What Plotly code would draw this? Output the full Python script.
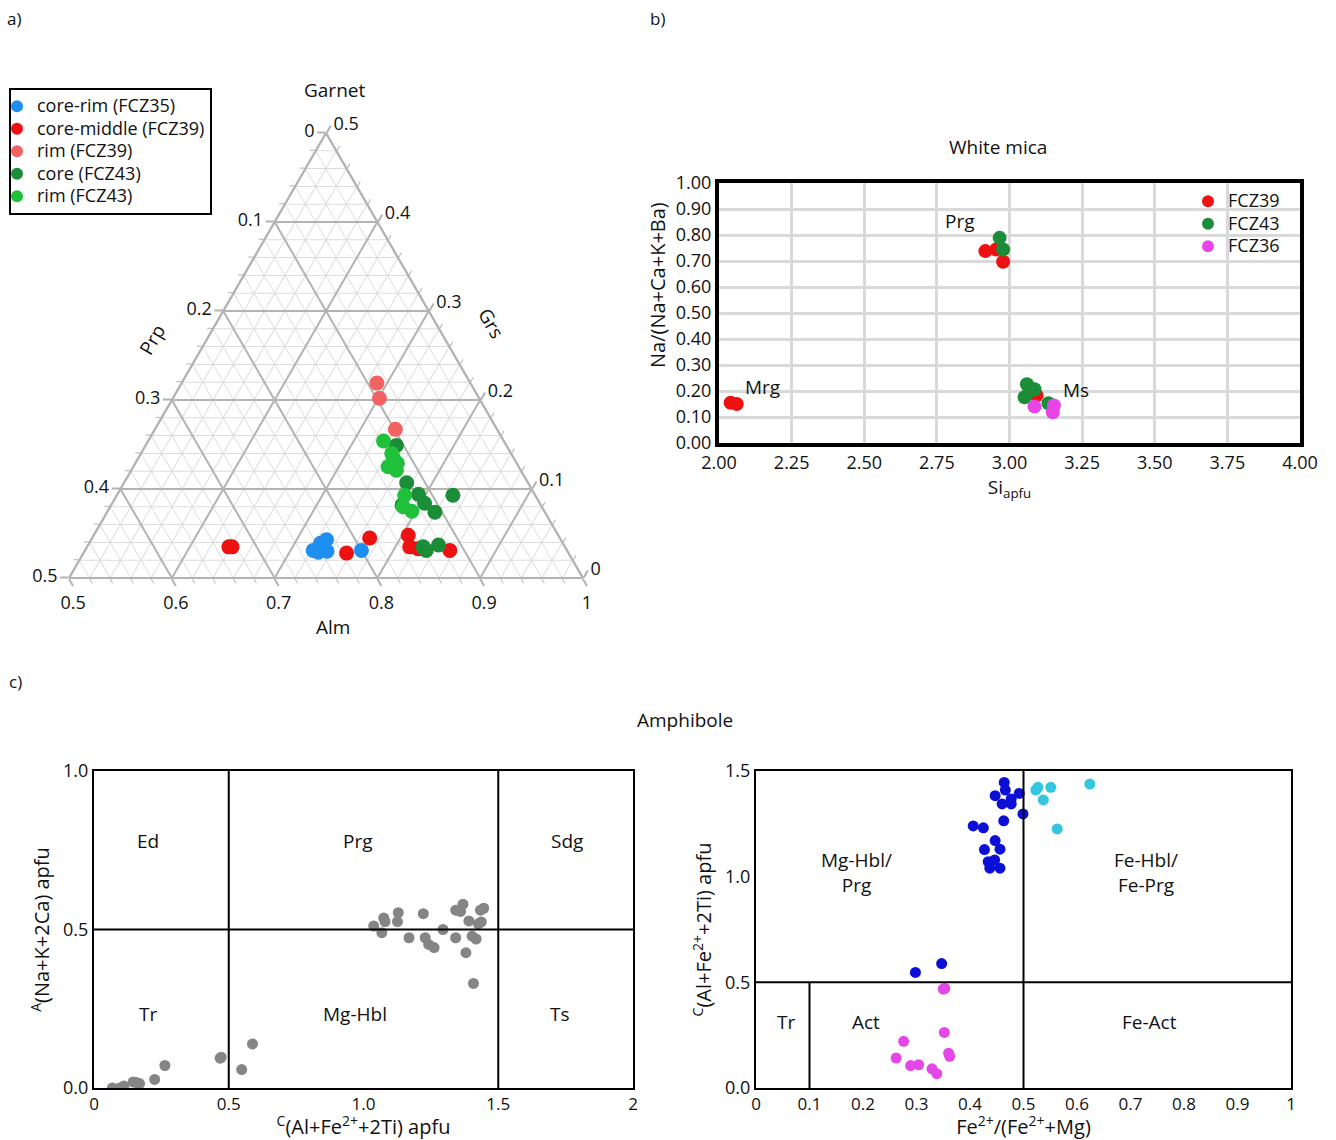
import plotly.graph_objects as go

W, H = 1336, 1140
FONT = "Open Sans"

# ---------------- a) Garnet ternary (mole fractions) ----------------
grt_labels = ["core-rim (FCZ35)", "core-middle (FCZ39)", "rim (FCZ39)", "core (FCZ43)", "rim (FCZ43)"]
grt_colors = ["#1f8ef1", "#ee1111", "#f26262", "#1b8c37", "#1fc13a"]

alm_corerim_35 = [0.729, 0.725, 0.722, 0.736, 0.769, 0.728]
prp_corerim_35 = [0.228, 0.236, 0.247, 0.234, 0.200, 0.243]
grs_corerim_35 = [0.043, 0.039, 0.031, 0.030, 0.031, 0.029]

alm_coremid_39 = [0.638, 0.641, 0.756, 0.770, 0.806, 0.814, 0.823, 0.855]
prp_coremid_39 = [0.327, 0.324, 0.216, 0.185, 0.146, 0.151, 0.144, 0.114]
grs_coremid_39 = [0.035, 0.035, 0.028, 0.045, 0.048, 0.035, 0.033, 0.031]

alm_rim_39 = [0.690, 0.701, 0.734]
prp_rim_39 = [0.091, 0.097, 0.099]
grs_rim_39 = [0.219, 0.202, 0.167]

alm_core_43 = [0.744, 0.775, 0.793, 0.804, 0.819, 0.827, 0.832, 0.841, 0.783, 0.827]
prp_core_43 = [0.107, 0.118, 0.113, 0.112, 0.107, 0.080, 0.137, 0.122, 0.135, 0.138]
grs_core_43 = [0.149, 0.107, 0.094, 0.084, 0.074, 0.093, 0.031, 0.037, 0.082, 0.035]

alm_rim_43 = [0.729, 0.744, 0.748, 0.748, 0.758, 0.780, 0.785, 0.796, 0.755]
prp_rim_43 = [0.117, 0.116, 0.117, 0.127, 0.121, 0.127, 0.135, 0.129, 0.116]
grs_rim_43 = [0.154, 0.140, 0.135, 0.125, 0.121, 0.093, 0.080, 0.075, 0.129]

grt_alm = [alm_corerim_35, alm_coremid_39, alm_rim_39, alm_core_43, alm_rim_43]
grt_prp = [prp_corerim_35, prp_coremid_39, prp_rim_39, prp_core_43, prp_rim_43]
grt_grs = [grs_corerim_35, grs_coremid_39, grs_rim_39, grs_core_43, grs_rim_43]

# ternary tick labels (each edge labelled with the end-member read along it)
tern_grs_tickvals = [0, 0.1, 0.2, 0.3, 0.4, 0.5]
tern_left_prp_text = ["0.5", "0.4", "0.3", "0.2", "0.1", "0"]
tern_prp_tickvals = [0, 0.1, 0.2, 0.3, 0.4, 0.5]
tern_bottom_alm_text = ["1", "0.9", "0.8", "0.7", "0.6", "0.5"]
tern_alm_tickvals = [0.5, 0.6, 0.7, 0.8, 0.9, 1.0]
tern_right_grs_text = ["0.5", "0.4", "0.3", "0.2", "0.1", "0"]

# ---------------- b) White mica ----------------
wm_labels = ["FCZ39", "FCZ43", "FCZ36"]
wm_colors = ["#ee1111", "#1b8c37", "#e845e8"]
wm_si_fcz39 = [2.040, 2.061, 2.917, 2.954, 2.978, 3.093]
wm_na_fcz39 = [0.155, 0.150, 0.738, 0.744, 0.697, 0.183]
wm_si_fcz43 = [2.966, 2.978, 3.060, 3.052, 3.086, 3.071, 3.134]
wm_na_fcz43 = [0.789, 0.744, 0.226, 0.176, 0.207, 0.201, 0.153]
wm_si_fcz36 = [3.086, 3.149, 3.153]
wm_na_fcz36 = [0.140, 0.118, 0.144]
wm_si = [wm_si_fcz39, wm_si_fcz43, wm_si_fcz36]
wm_na = [wm_na_fcz39, wm_na_fcz43, wm_na_fcz36]
wm_field_names = ["Prg", "Mrg", "Ms"]
wm_field_x = [2.83, 2.15, 3.23]
wm_field_y = [0.855, 0.215, 0.205]

# ---------------- c) Amphibole ----------------
amph1_x = [1.038, 1.068, 1.075, 1.080, 1.129, 1.126, 1.169, 1.222, 1.229, 1.242, 1.262,
           1.295, 1.342, 1.360, 1.369, 1.342, 1.391, 1.380, 1.403, 1.418, 1.426, 1.437,
           1.434, 1.446, 1.408,
           0.068, 0.095, 0.111, 0.145, 0.157, 0.169, 0.225, 0.263, 0.468, 0.472, 0.548, 0.588]
amph1_y = [0.511, 0.490, 0.536, 0.525, 0.553, 0.525, 0.474, 0.550, 0.474, 0.453, 0.443,
           0.500, 0.561, 0.557, 0.580, 0.474, 0.527, 0.427, 0.479, 0.470, 0.518, 0.524,
           0.561, 0.567, 0.330,
           0.000, 0.000, 0.006, 0.019, 0.017, 0.014, 0.027, 0.071, 0.094, 0.097, 0.058, 0.139]
amph1_xdiv = [0.5, 1.5]
amph1_ydiv = [0.5]
amph1_fields = ["Ed", "Prg", "Sdg", "Tr", "Mg-Hbl", "Ts"]
amph1_field_x = [0.20, 0.98, 1.755, 0.20, 0.97, 1.73]
amph1_field_y = [0.78, 0.78, 0.78, 0.235, 0.235, 0.235]

amph2_blue_x = [0.464, 0.466, 0.447, 0.492, 0.477, 0.460, 0.477, 0.499, 0.463, 0.406,
                0.425, 0.447, 0.427, 0.456, 0.434, 0.446, 0.437, 0.456, 0.298, 0.347]
amph2_blue_y = [1.446, 1.410, 1.383, 1.394, 1.368, 1.344, 1.344, 1.297, 1.264, 1.240,
                1.231, 1.171, 1.128, 1.130, 1.071, 1.079, 1.040, 1.040, 0.547, 0.589]
amph2_cyan_x = [0.523, 0.527, 0.551, 0.537, 0.624, 0.563]
amph2_cyan_y = [1.410, 1.423, 1.423, 1.363, 1.438, 1.226]
amph2_mag_x = [0.350, 0.353, 0.352, 0.276, 0.262, 0.289, 0.304, 0.329, 0.338, 0.360, 0.362]
amph2_mag_y = [0.468, 0.471, 0.263, 0.221, 0.142, 0.106, 0.110, 0.091, 0.068, 0.165, 0.150]
amph2_xdiv = [0.5]
amph2_ydiv = [0.5]
amph2_tr_div = 0.1
amph2_fields = ["Mg-Hbl/<br>Prg", "Fe-Hbl/<br>Fe-Prg", "Tr", "Act", "Fe-Act"]
amph2_field_x = [0.187, 0.729, 0.056, 0.206, 0.735]
amph2_field_y = [1.02, 1.02, 0.31, 0.31, 0.31]

LEG_TXT = "<span style='font-size:18px'>{}</span>"

fig = go.Figure()

# fine background grid of the ternary (separate subplot underneath)
fig.add_trace(go.Scatterternary(a=[], b=[], c=[], mode="markers", subplot="ternary",
                                showlegend=False, hoverinfo="skip"))

# ---- ternary traces ----
for lab, col, al, pr, gr in zip(grt_labels, grt_colors, grt_alm, grt_prp, grt_grs):
    fig.add_trace(go.Scatterternary(
        a=gr, b=pr, c=al, mode="markers", name=LEG_TXT.format(lab), subplot="ternary2",
        marker=dict(color=col, size=15, line=dict(width=0)), legend="legend"))

# ---- white mica ----
for lab, col, xs, ys in zip(wm_labels, wm_colors, wm_si, wm_na):
    fig.add_trace(go.Scatter(x=xs, y=ys, mode="markers", name=LEG_TXT.format(lab),
                             xaxis="x", yaxis="y",
                             marker=dict(color=col, size=14), legend="legend2"))

# ---- amphibole ----
fig.add_trace(go.Scatter(x=amph1_x, y=amph1_y, mode="markers", xaxis="x2", yaxis="y2",
                         marker=dict(color="#858585", size=11), showlegend=False))
fig.add_trace(go.Scatter(x=amph2_blue_x, y=amph2_blue_y, mode="markers", xaxis="x3", yaxis="y3",
                         marker=dict(color="#0c10d6", size=11), showlegend=False))
fig.add_trace(go.Scatter(x=amph2_cyan_x, y=amph2_cyan_y, mode="markers", xaxis="x3", yaxis="y3",
                         marker=dict(color="#33c6de", size=11), showlegend=False))
fig.add_trace(go.Scatter(x=amph2_mag_x, y=amph2_mag_y, mode="markers", xaxis="x3", yaxis="y3",
                         marker=dict(color="#e447e8", size=11), showlegend=False))

shapes = []
for xv in amph1_xdiv:
    shapes.append(dict(type="line", xref="x2", yref="y2 domain", x0=xv, x1=xv, y0=0, y1=1,
                       line=dict(color="black", width=2)))
for yv in amph1_ydiv:
    shapes.append(dict(type="line", xref="x2 domain", yref="y2", x0=0, x1=1, y0=yv, y1=yv,
                       line=dict(color="black", width=2)))
for xv in amph2_xdiv:
    shapes.append(dict(type="line", xref="x3", yref="y3 domain", x0=xv, x1=xv, y0=0, y1=1,
                       line=dict(color="black", width=2)))
for yv in amph2_ydiv:
    shapes.append(dict(type="line", xref="x3 domain", yref="y3", x0=0, x1=1, y0=yv, y1=yv,
                       line=dict(color="black", width=2)))
shapes.append(dict(type="line", xref="x3", yref="y3", x0=amph2_tr_div, x1=amph2_tr_div,
                   y0=0, y1=amph2_ydiv[0], line=dict(color="black", width=2)))

ann = []


def note(text, x, y, xref="paper", yref="paper", angle=0, size=19):
    return dict(text=text, x=x, y=y, xref=xref, yref=yref, showarrow=False, textangle=angle,
                xanchor="center", yanchor="middle", font=dict(family=FONT, size=size, color="#111"))


for t, xx, yy in [("a)", 14 / W, 1 - 18 / H), ("b)", 657 / W, 1 - 18 / H), ("c)", 15 / W, 1 - 681 / H)]:
    ann.append(note(t, xx, yy, size=17))
ann.append(note("White mica", 998 / W, 1 - 147 / H))
ann.append(note("Amphibole", 685 / W, 1 - 720 / H))
ann.append(note("Garnet", 334 / W, 1 - 90 / H))
ann.append(note("Prp", 152 / W, 1 - 340 / H, angle=-60))
ann.append(note("Grs", 491 / W, 1 - 323 / H, angle=60))
ann.append(note("Alm", 333 / W, 1 - 627 / H))
ann.append(note("Na/(Na+Ca+K+Ba)", 657 / W, 1 - 285 / H, angle=-90, size=20))
for t, xx, yy in zip(wm_field_names, wm_field_x, wm_field_y):
    ann.append(note(t, xx, yy, "x", "y"))
for t, xx, yy in zip(amph1_fields, amph1_field_x, amph1_field_y):
    ann.append(note(t, xx, yy, "x2", "y2"))
for t, xx, yy in zip(amph2_fields, amph2_field_x, amph2_field_y):
    ann.append(note(t, xx, yy, "x3", "y3"))

tern_domain = dict(x=[69 / W, 583 / W], y=[1 - 578 / H, 1 - 133 / H])
GRID = "#b3b3b3"
minor = dict(showgrid=True, gridcolor="#dcdcdc", gridwidth=1, tickmode="linear", tick0=0,
             dtick=0.02, showticklabels=False, ticks="outside", ticklen=5, tickcolor=GRID,
             tickwidth=1, showline=True, linecolor=GRID, linewidth=2, title=dict(text=""))
tickf = dict(family=FONT, size=18, color="#111")
major = dict(showgrid=True, gridcolor=GRID, gridwidth=1.6, tickmode="array", ticks="outside",
             ticklen=8, tickcolor=GRID, tickwidth=1.5, showline=True, linecolor=GRID,
             linewidth=2, tickfont=tickf, title=dict(text=""))

axis_common = dict(showline=True, mirror=True, linecolor="black", zeroline=False,
                   ticks="", tickfont=dict(family=FONT, size=18, color="#111"))
xtickf_amph = dict(family=FONT, size=17, color="#111")

legfont = dict(family=FONT, size=15, color="#111")

fig.update_layout(
    width=W, height=H, margin=dict(l=0, r=0, t=0, b=0), template="none",
    paper_bgcolor="white", plot_bgcolor="white",
    font=dict(family=FONT, size=17, color="#111"),
    ternary=dict(domain=tern_domain, sum=1, bgcolor="white",
                 aaxis=dict(minor, min=0), baxis=dict(minor, min=0), caxis=dict(minor, min=0.5)),
    ternary2=dict(domain=tern_domain, sum=1, bgcolor="rgba(0,0,0,0)",
                  aaxis=dict(major, min=0, tickvals=tern_grs_tickvals, ticktext=tern_left_prp_text),
                  baxis=dict(major, min=0, tickvals=tern_prp_tickvals, ticktext=tern_bottom_alm_text),
                  caxis=dict(major, min=0.5, tickvals=tern_alm_tickvals, ticktext=tern_right_grs_text)),
    xaxis=dict(axis_common, domain=[719 / W, 1300 / W], range=[2, 4], dtick=0.25, tick0=2,
               tickformat=".2f", linewidth=4, showgrid=True, gridcolor="#d9d9d9", gridwidth=3,
               anchor="y", title=dict(text="Si<sub>apfu</sub>", standoff=4,
                                      font=dict(family=FONT, size=19))),
    yaxis=dict(axis_common, domain=[1 - 443 / H, 1 - 183 / H], range=[0, 1], dtick=0.1, tick0=0,
               tickformat=".2f", linewidth=4, showgrid=True, gridcolor="#d9d9d9", gridwidth=3,
               anchor="x", title=dict(text="")),
    xaxis2=dict(axis_common, domain=[94 / W, 633 / W], range=[0, 2], tickmode="array",
                tickvals=[0, 0.5, 1, 1.5, 2], ticktext=["0", "0.5", "1.0", "1.5", "2"],
                tickfont=xtickf_amph, linewidth=2, showgrid=False, anchor="y2",
                title=dict(text="<sup>C</sup>(Al+Fe<sup>2+</sup>+2Ti) apfu", standoff=8)),
    yaxis2=dict(axis_common, domain=[1 - 1088 / H, 1 - 771 / H], range=[0, 1], tickmode="array",
                tickvals=[0, 0.5, 1], ticktext=["0.0", "0.5", "1.0"],
                linewidth=2, showgrid=False, anchor="x2",
                title=dict(text="<sup>A</sup>(Na+K+2Ca) apfu", standoff=8)),
    xaxis3=dict(axis_common, domain=[756 / W, 1291 / W], range=[0, 1], tickmode="array",
                tickvals=[0, 0.1, 0.2, 0.3, 0.4, 0.5, 0.6, 0.7, 0.8, 0.9, 1],
                ticktext=["0", "0.1", "0.2", "0.3", "0.4", "0.5", "0.6", "0.7", "0.8", "0.9", "1"],
                tickfont=xtickf_amph, linewidth=2, showgrid=False, anchor="y3",
                title=dict(text="Fe<sup>2+</sup>/(Fe<sup>2+</sup>+Mg)", standoff=8)),
    yaxis3=dict(axis_common, domain=[1 - 1088 / H, 1 - 771 / H], range=[0, 1.5], tickmode="array",
                tickvals=[0, 0.5, 1, 1.5], ticktext=["0.0", "0.5", "1.0", "1.5"],
                linewidth=2, showgrid=False, anchor="x3",
                title=dict(text="<sup>C</sup>(Al+Fe<sup>2+</sup>+2Ti) apfu", standoff=8)),
    legend=dict(x=9 / W, y=1 - 88 / H, xanchor="left", yanchor="top", bgcolor="white",
                bordercolor="black", borderwidth=2, font=legfont, indentation=-14,
                itemsizing="constant", tracegroupgap=0),
    legend2=dict(x=1196 / W, y=1 - 185 / H, xanchor="left", yanchor="top",
                 bgcolor="rgba(0,0,0,0)", borderwidth=0, font=legfont, indentation=-8,
                 itemsizing="constant", tracegroupgap=0),
    shapes=shapes, annotations=ann, showlegend=True,
)

fig.write_html("out.html", config={"displayModeBar": False},
               post_script="document.body.style.margin='0';")
